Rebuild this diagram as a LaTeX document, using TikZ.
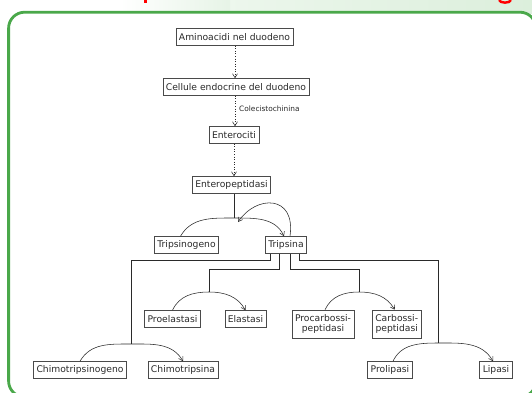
\documentclass[tikz,border=0pt]{standalone}
\usepackage{fontspec}
\setmainfont{DejaVu Sans}
\usetikzlibrary{arrows.meta}
\definecolor{frame}{HTML}{4AA84A}
\definecolor{band}{HTML}{DCEFDC}
\definecolor{ink}{HTML}{2A2A2A}
\tikzset{
  box/.style={draw=ink!85, line width=0.6pt, fill=white, text=ink, font=\fontsize{9.2}{10.2}\selectfont,
    minimum height=17pt, inner xsep=3pt, inner ysep=1pt, align=center},
  twoline/.style={box, minimum height=28pt},
  link/.style={draw=ink, line width=0.55pt},
  arr/.style={link, -{Straight Barb[length=4pt,width=5pt]}},
  dotarr/.style={link, dotted, -{Straight Barb[length=4pt,width=5pt]}},
  lbl/.style={text=ink, font=\fontsize{7.4}{8}\selectfont, inner sep=1pt}
}
\begin{document}
\begin{tikzpicture}[x=1pt,y=-1pt]
\useasboundingbox (0,0) rectangle (532,392);
% background band
\shade[left color=white, right color=band, middle color=band!60] (0,0) rectangle (532,13);
\fill[white] (0,0) rectangle (130,13);
\shade[left color=white, right color=band!70] (120,0) rectangle (230,13);
% cropped title fragments
\draw[red, line width=2.4pt] (145.3,0) -- (145.3,3.4);
\draw[red, line width=2.4pt] (499,0) .. controls (500,3.5) and (510,3.5) .. (511,0);
% frame
\draw[frame, line width=2.8pt, rounded corners=16pt, fill=white] (8.6,12.2) rectangle (536,397);

% nodes
\node[box] (amino) at (234.5,37) {Aminoacidi nel duodeno};
\node[box] (cell) at (236,87) {Cellule endocrine del duodeno};
\node[box] (ento) at (234,135) {Enterociti};
\node[box] (entp) at (231.5,185) {Enteropeptidasi};
\node[box] (tgen) at (186.5,245) {Tripsinogeno};
\node[box] (tri) at (286,245) {Tripsina};
\node[box] (proe) at (172.5,319) {Proelastasi};
\node[box] (ela) at (245.5,319) {Elastasi};
\node[twoline] (procp) at (323,324) {Procarbossi-\\peptidasi};
\node[twoline] (carbp) at (396.7,324) {Carbossi-\\peptidasi};
\node[box] (chgen) at (80,370) {Chimotripsinogeno};
\node[box] (chim) at (183,370) {Chimotripsina};
\node[box] (plip) at (390,370) {Prolipasi};
\node[box] (lip) at (496,370) {Lipasi};

% junction points
\coordinate (jt) at (234,218);
\coordinate (jch) at (131,344);
\coordinate (jel) at (209,292);
\coordinate (jcp) at (359,292);
\coordinate (jlp) at (438,343);

% dotted arrows
\draw[dotarr] (amino.south -| 235,0) -- (cell.north -| 235,0);
\draw[dotarr] (cell.south -| 235,0) -- (ento.north -| 235,0);
\node[lbl, anchor=west] (cck) at (238,109) {Colecistochinina};
\draw[dotarr] (ento.south -| 234,0) -- (entp.north -| 234,0);

% enteropeptidasi activation
\draw[link] (entp.south -| jt) -- (jt);
\draw[arr] ([xshift=-6pt]tgen.north) to[out=60,in=180] (jt) to[out=0,in=115] ([xshift=-2pt]tri.north);
\draw[arr] ([xshift=4pt]tri.north) .. controls ++(6,-42) and (256,195) .. ([shift={(4pt,-4pt)}]jt);

% branches from tripsina
\draw[link] ([xshift=-16pt]tri.south) -- ++(0,6) -| (jch);
\draw[link] ([xshift=-7pt]tri.south) -- ++(0,15) -| (jel);
\draw[link] ([xshift=4pt]tri.south) -- ++(0,15) -| (jcp);
\draw[link] ([xshift=13pt]tri.south) -- ++(0,6.5) -| (jlp);

% activation arcs
\draw[arr] (chgen.north) to[out=60,in=180] (jch) to[out=0,in=120] (chim.north);
\draw[arr] (proe.north) to[out=65,in=180] (jel) to[out=0,in=120] (ela.north);
\draw[arr] ([xshift=2pt]procp.north) to[out=65,in=180] (jcp) to[out=0,in=120] ([xshift=-2pt]carbp.north);
\draw[arr] ([xshift=3pt]plip.north) to[out=65,in=180] (jlp) to[out=0,in=120] ([xshift=-3pt]lip.north);
\end{tikzpicture}
\end{document}
